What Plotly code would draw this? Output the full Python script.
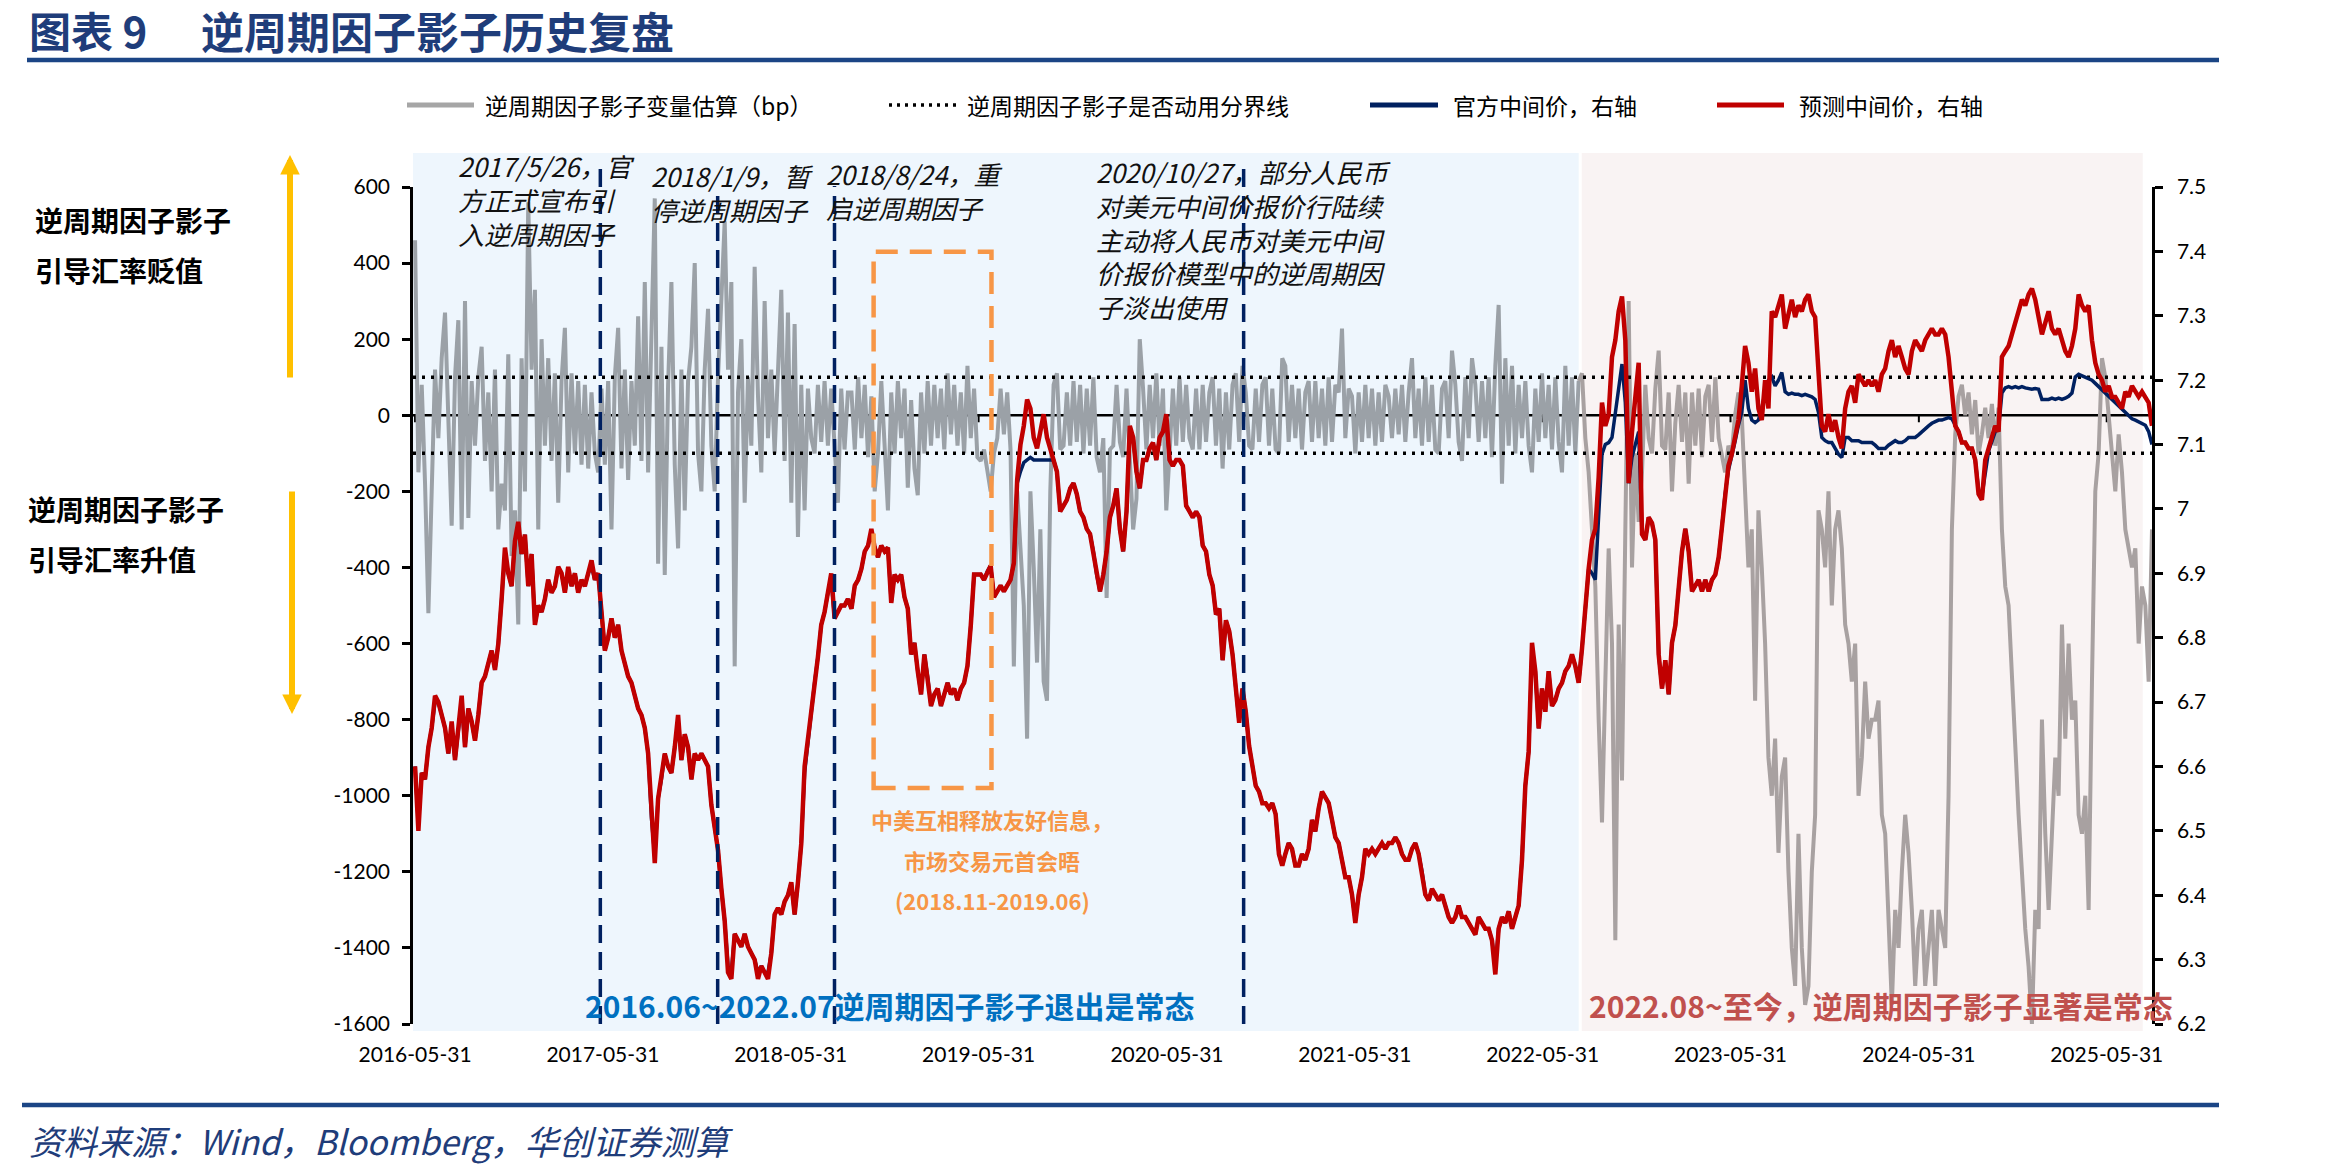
import pandas as pd
import plotly.graph_objects as go

# ---------------- data ----------------
# four consecutive time segments, values sampled roughly weekly
seg_a_span = ("2016-05-31", "2018-09-19")
seg_b_span = ("2018-09-26", "2021-01-10")
seg_c_span = ("2021-01-16", "2023-05-08")
seg_d_span = ("2023-05-14", "2025-08-27")

# 逆周期因子影子变量估算 (bp), left axis
shadow_a = [460, -150, 80, -180, -520, -220, 120, -60, 150, 270,
            -40, -290, 100, 250, -300, 300, -270, 90, -80, 100,
            180, -120, 60, -200, 120, -300, -180, -250, 160, -370,
            -250, -550, 150, -200, 560, 120, 330, -300, 200, -80,
            150, -120, 110, -230, 90, 230, -150, 110, -100, 90,
            -130, 80, -140, 60, -100, -150, 70, -130, 90, -300,
            100, 230, -140, 120, -170, 90, -80, 260, -120, 350,
            -150, 200, 570, -390, 180, -420, 80, 350, -130, -350,
            120, -250, 90, 180, 400, -100, -200, 120, 280, -80,
            -200, 100, 300, 510, 120, 350, -660, 60, 200, -230,
            100, -80, 390, 50, -150, 300, -60, 120, -100, 150,
            330, -120, 270, -230, 240, -320, 80, -250, 70, -60,
            -100, 80, -70, 90, -80, 70, -100, -230, 70, -90,
            60]
shadow_b = [60, -90, 100, -60, 80, -110, 50, -200, -100, 90,
            -70, -250, 60, -100, 90, -60, 70, -190, 40, -140,
            -210, 60, -100, 90, -80, 80, -60, 70, -90, 110,
            -50, 80, -80, 60, -100, 130, -60, 70, -110, -120,
            -90, -150, -200, -100, -60, 70, -50, 60, -90, -660,
            -200, -350, -500, -850, -200, -400, -650, -300, -700, -750,
            -200, 80, 110, -90, -80, 60, -80, 90, -70, 80,
            -100, 70, -80, 100, -110, -150, -60, -480, -90, -80,
            80, -70, -110, 70, -100, -300, -220, 200, 70, -90,
            80, -60, 110, -80, 70, -250, -100, 70, -80, 100,
            -70, 80, -60, -90, 70, -90, 80, -70, 60, 100,
            -80, 70, -140, 60, -90, 80, 110, -70, 130, 60,
            -80, -90, 70, -70, 80, 100, -80, 70, -90, -100,
            150]
shadow_c = [130, -70, 80, -60, 70, -90, 60, 90, -70, 90,
            -60, 70, -80, 100, -70, 80, 60, 228, -60, 70,
            50, -100, 60, -70, 80, -60, 70, -80, 60, -70,
            80, 50, -60, 70, -50, 80, -70, 60, 150, -60,
            70, -80, 100, -70, 80, -90, -100, 70, 90, -60,
            170, 80, -70, -120, 100, -60, 150, 80, -70, 90,
            -60, 100, -110, 130, 290, -180, 150, -80, 130, -100,
            80, -60, 90, -80, -150, 70, -70, 110, -60, 80,
            -90, 100, -70, -150, 130, -80, 100, -100, 90, 110,
            -60, -150, -300, -450, -800, -1070, -700, -350, -600, -1380,
            -550, -960, -300, 300, -400, -100, -280, -150, 80, -60,
            -100, 70, 170, -80, -90, 60, -200, -20, 80, -70,
            60, -180, 60, -80, 70, -110, 50, 80, -70, 100,
            -60]
shadow_d = [-100, -150, -80, -100, 0, 60, 0, -200, -400, -300,
            -750, -250, -400, -600, -900, -1000, -850, -1150, -950, -900,
            -1200, -1400, -1500, -1100, -1400, -1550, -1500, -1200, -1050, -250,
            -300, -400, -200, -500, -300, -250, -350, -550, -600, -700,
            -600, -1000, -900, -700, -850, -800, -800, -750, -1050, -1100,
            -1300, -1550, -1300, -1400, -1200, -1050, -1150, -1300, -1500, -1350,
            -1300, -1500, -1400, -1300, -1500, -1300, -1350, -1400, -1000, -300,
            -50, 50, 80, 0, 60, -50, 40, -100, -50, 20,
            -60, 30, -80, 20, -300, -450, -500, -700, -900, -1050,
            -1200, -1350, -1450, -1600, -1300, -1350, -800, -1100, -1300, -1100,
            -900, -1000, -550, -850, -600, -800, -750, -1050, -1100, -1000,
            -1300, -700, -200, -100, 150, 100, 0, -100, -200, -50,
            -150, -300, -350, -400, -350, -600, -450, -500, -700, -300]

# 预测中间价 (right axis)
predicted_a = [6.60, 6.50, 6.59, 6.58, 6.63, 6.66, 6.71, 6.70, 6.68, 6.66,
               6.62, 6.67, 6.61, 6.66, 6.71, 6.63, 6.69, 6.67, 6.64, 6.68,
               6.73, 6.74, 6.76, 6.78, 6.75, 6.79, 6.86, 6.94, 6.90, 6.88,
               6.95, 6.98, 6.93, 6.96, 6.88, 6.93, 6.82, 6.85, 6.84, 6.86,
               6.89, 6.87, 6.88, 6.91, 6.90, 6.87, 6.91, 6.88, 6.90, 6.87,
               6.89, 6.88, 6.90, 6.92, 6.89, 6.90, 6.84, 6.78, 6.80, 6.83,
               6.80, 6.82, 6.78, 6.76, 6.74, 6.73, 6.71, 6.69, 6.68, 6.66,
               6.62, 6.52, 6.45, 6.55, 6.58, 6.62, 6.60, 6.59, 6.63, 6.68,
               6.61, 6.65, 6.63, 6.58, 6.62, 6.61, 6.62, 6.61, 6.60, 6.54,
               6.50, 6.47, 6.41, 6.36, 6.28, 6.27, 6.34, 6.33, 6.32, 6.34,
               6.32, 6.31, 6.30, 6.27, 6.29, 6.28, 6.27, 6.31, 6.37, 6.38,
               6.37, 6.39, 6.40, 6.42, 6.37, 6.42, 6.48, 6.60, 6.64, 6.69,
               6.73, 6.77, 6.82, 6.84, 6.87, 6.90, 6.83, 6.84, 6.85, 6.85,
               6.86]
predicted_b = [6.845, 6.881, 6.890, 6.907, 6.934, 6.943, 6.969, 6.940, 6.925, 6.943,
               6.934, 6.940, 6.854, 6.898, 6.890, 6.898, 6.863, 6.845, 6.774, 6.792,
               6.748, 6.712, 6.774, 6.739, 6.694, 6.712, 6.721, 6.694, 6.712, 6.730,
               6.712, 6.721, 6.703, 6.721, 6.730, 6.756, 6.819, 6.898, 6.898, 6.898,
               6.890, 6.903, 6.912, 6.863, 6.872, 6.881, 6.872, 6.881, 6.890, 6.916,
               7.045, 7.100, 7.129, 7.170, 7.156, 7.111, 7.094, 7.120, 7.147, 7.111,
               7.094, 7.076, 7.058, 6.996, 7.005, 7.014, 7.032, 7.040, 7.023, 6.996,
               6.987, 6.969, 6.961, 6.934, 6.898, 6.872, 6.898, 6.934, 6.987, 7.005,
               7.032, 6.969, 6.934, 6.996, 7.129, 7.111, 7.058, 7.032, 7.076, 7.076,
               7.094, 7.103, 7.076, 7.111, 7.120, 7.147, 7.076, 7.067, 7.076, 7.076,
               7.067, 7.005, 6.996, 6.987, 6.996, 6.987, 6.943, 6.934, 6.898, 6.881,
               6.836, 6.845, 6.765, 6.827, 6.810, 6.774, 6.721, 6.668, 6.721, 6.685,
               6.632, 6.597, 6.570, 6.561, 6.543, 6.543, 6.535, 6.543, 6.526, 6.464,
               6.446]
predicted_c = [6.464, 6.481, 6.472, 6.446, 6.446, 6.464, 6.455, 6.472, 6.517, 6.499,
               6.535, 6.561, 6.552, 6.543, 6.517, 6.490, 6.481, 6.455, 6.428, 6.428,
               6.401, 6.357, 6.401, 6.428, 6.472, 6.464, 6.472, 6.464, 6.472, 6.481,
               6.472, 6.481, 6.481, 6.490, 6.481, 6.464, 6.455, 6.455, 6.472, 6.481,
               6.464, 6.437, 6.401, 6.392, 6.410, 6.401, 6.392, 6.401, 6.384, 6.366,
               6.357, 6.366, 6.384, 6.366, 6.366, 6.357, 6.348, 6.339, 6.366, 6.357,
               6.348, 6.348, 6.330, 6.277, 6.348, 6.366, 6.357, 6.375, 6.348, 6.366,
               6.384, 6.455, 6.570, 6.623, 6.792, 6.748, 6.659, 6.721, 6.685, 6.748,
               6.694, 6.703, 6.721, 6.730, 6.748, 6.756, 6.774, 6.756, 6.730, 6.783,
               6.854, 6.907, 6.952, 6.969, 7.049, 7.165, 7.129, 7.147, 7.236, 7.262,
               7.307, 7.330, 7.262, 7.040, 7.120, 7.174, 7.227, 6.961, 6.952, 6.987,
               6.978, 6.952, 6.774, 6.721, 6.765, 6.712, 6.792, 6.819, 6.881, 6.934,
               6.969, 6.934, 6.872, 6.881, 6.890, 6.872, 6.890, 6.872, 6.890, 6.898,
               6.925]
predicted_d = [6.969, 7.023, 7.067, 7.085, 7.111, 7.138, 7.191, 7.253, 7.227, 7.182,
               7.218, 7.156, 7.138, 7.200, 7.156, 7.307, 7.298, 7.316, 7.333, 7.280,
               7.307, 7.325, 7.298, 7.316, 7.307, 7.325, 7.333, 7.307, 7.298, 7.218,
               7.129, 7.120, 7.147, 7.120, 7.138, 7.111, 7.094, 7.156, 7.182, 7.191,
               7.165, 7.209, 7.200, 7.191, 7.200, 7.191, 7.200, 7.182, 7.209, 7.218,
               7.245, 7.262, 7.236, 7.253, 7.236, 7.218, 7.209, 7.245, 7.262, 7.253,
               7.245, 7.262, 7.271, 7.280, 7.271, 7.271, 7.280, 7.271, 7.236, 7.182,
               7.129, 7.120, 7.103, 7.103, 7.094, 7.094, 7.076, 7.023, 7.014, 7.076,
               7.094, 7.111, 7.129, 7.120, 7.236, 7.245, 7.253, 7.271, 7.289, 7.307,
               7.325, 7.316, 7.333, 7.342, 7.325, 7.298, 7.271, 7.289, 7.307, 7.280,
               7.271, 7.280, 7.262, 7.245, 7.236, 7.253, 7.280, 7.333, 7.316, 7.307,
               7.316, 7.262, 7.227, 7.209, 7.200, 7.182, 7.191, 7.174, 7.174, 7.165,
               7.156, 7.182, 7.174, 7.191, 7.182, 7.174, 7.182, 7.174, 7.165, 7.129]

# 官方中间价 (right axis)
official_a = [6.60, 6.51, 6.59, 6.58, 6.63, 6.66, 6.70, 6.70, 6.68, 6.66,
              6.62, 6.66, 6.61, 6.66, 6.70, 6.63, 6.69, 6.67, 6.64, 6.68,
              6.73, 6.74, 6.76, 6.78, 6.75, 6.79, 6.86, 6.93, 6.90, 6.88,
              6.95, 6.97, 6.93, 6.96, 6.88, 6.93, 6.82, 6.85, 6.84, 6.86,
              6.89, 6.87, 6.88, 6.91, 6.90, 6.87, 6.90, 6.88, 6.90, 6.87,
              6.89, 6.88, 6.90, 6.91, 6.89, 6.90, 6.84, 6.78, 6.80, 6.83,
              6.80, 6.82, 6.78, 6.76, 6.74, 6.73, 6.71, 6.69, 6.68, 6.66,
              6.62, 6.52, 6.46, 6.55, 6.58, 6.62, 6.60, 6.59, 6.63, 6.67,
              6.61, 6.65, 6.63, 6.58, 6.62, 6.61, 6.62, 6.61, 6.60, 6.54,
              6.50, 6.47, 6.41, 6.36, 6.29, 6.28, 6.34, 6.33, 6.32, 6.34,
              6.32, 6.31, 6.30, 6.28, 6.29, 6.28, 6.28, 6.31, 6.37, 6.38,
              6.37, 6.39, 6.40, 6.42, 6.37, 6.42, 6.48, 6.59, 6.64, 6.69,
              6.73, 6.77, 6.82, 6.84, 6.87, 6.89, 6.83, 6.84, 6.85, 6.85,
              6.86]
official_b = [6.845, 6.881, 6.890, 6.907, 6.934, 6.943, 6.965, 6.940, 6.925, 6.943,
              6.934, 6.940, 6.854, 6.898, 6.890, 6.898, 6.863, 6.845, 6.774, 6.792,
              6.748, 6.712, 6.774, 6.739, 6.694, 6.712, 6.721, 6.694, 6.712, 6.730,
              6.712, 6.721, 6.703, 6.721, 6.730, 6.756, 6.819, 6.898, 6.898, 6.898,
              6.890, 6.903, 6.912, 6.863, 6.872, 6.881, 6.872, 6.881, 6.890, 6.916,
              7.040, 7.058, 7.072, 7.076, 7.080, 7.076, 7.076, 7.076, 7.076, 7.076,
              7.076, 7.076, 7.058, 6.996, 7.005, 7.014, 7.032, 7.040, 7.023, 6.996,
              6.987, 6.969, 6.961, 6.934, 6.898, 6.872, 6.898, 6.934, 6.987, 7.005,
              7.032, 6.969, 6.934, 6.996, 7.120, 7.111, 7.058, 7.032, 7.076, 7.076,
              7.094, 7.103, 7.076, 7.111, 7.120, 7.140, 7.076, 7.067, 7.076, 7.076,
              7.067, 7.005, 6.996, 6.987, 6.996, 6.987, 6.943, 6.934, 6.898, 6.881,
              6.836, 6.845, 6.765, 6.827, 6.810, 6.774, 6.721, 6.668, 6.721, 6.685,
              6.632, 6.597, 6.570, 6.561, 6.543, 6.543, 6.535, 6.543, 6.526, 6.464,
              6.446]
official_c = [6.464, 6.481, 6.472, 6.446, 6.446, 6.464, 6.455, 6.472, 6.517, 6.499,
              6.535, 6.561, 6.552, 6.543, 6.517, 6.490, 6.481, 6.455, 6.428, 6.428,
              6.401, 6.360, 6.401, 6.428, 6.472, 6.464, 6.472, 6.464, 6.472, 6.481,
              6.472, 6.481, 6.481, 6.490, 6.481, 6.464, 6.455, 6.455, 6.472, 6.481,
              6.464, 6.437, 6.401, 6.392, 6.410, 6.401, 6.392, 6.401, 6.384, 6.366,
              6.357, 6.366, 6.384, 6.366, 6.366, 6.357, 6.348, 6.339, 6.366, 6.357,
              6.348, 6.348, 6.330, 6.290, 6.348, 6.366, 6.357, 6.375, 6.348, 6.366,
              6.384, 6.455, 6.570, 6.623, 6.780, 6.748, 6.659, 6.721, 6.685, 6.748,
              6.694, 6.703, 6.721, 6.730, 6.748, 6.756, 6.774, 6.756, 6.730, 6.783,
              6.854, 6.907, 6.900, 6.890, 6.990, 7.085, 7.100, 7.103, 7.111, 7.150,
              7.180, 7.225, 7.165, 7.040, 7.080, 7.100, 7.120, 6.961, 6.952, 6.987,
              6.978, 6.952, 6.774, 6.721, 6.765, 6.712, 6.792, 6.819, 6.881, 6.934,
              6.969, 6.934, 6.872, 6.881, 6.890, 6.872, 6.890, 6.872, 6.890, 6.898,
              6.925]
official_d = [6.969, 7.023, 7.060, 7.080, 7.105, 7.130, 7.150, 7.200, 7.156, 7.138,
              7.134, 7.138, 7.156, 7.182, 7.200, 7.205, 7.191, 7.200, 7.212, 7.182,
              7.178, 7.180, 7.178, 7.178, 7.176, 7.178, 7.176, 7.174, 7.170, 7.150,
              7.111, 7.106, 7.103, 7.103, 7.094, 7.085, 7.080, 7.111, 7.111, 7.106,
              7.106, 7.106, 7.103, 7.103, 7.103, 7.103, 7.099, 7.094, 7.094, 7.094,
              7.099, 7.103, 7.106, 7.103, 7.103, 7.106, 7.111, 7.111, 7.111, 7.115,
              7.120, 7.124, 7.129, 7.133, 7.135, 7.138, 7.138, 7.140, 7.142, 7.140,
              7.129, 7.120, 7.103, 7.103, 7.094, 7.094, 7.076, 7.030, 7.020, 7.060,
              7.090, 7.105, 7.120, 7.125, 7.180, 7.188, 7.190, 7.188, 7.190, 7.188,
              7.190, 7.188, 7.187, 7.186, 7.187, 7.186, 7.170, 7.170, 7.170, 7.172,
              7.170, 7.172, 7.170, 7.172, 7.175, 7.180, 7.205, 7.209, 7.207, 7.205,
              7.203, 7.200, 7.195, 7.190, 7.185, 7.180, 7.176, 7.170, 7.165, 7.160,
              7.156, 7.150, 7.145, 7.140, 7.138, 7.135, 7.133, 7.130, 7.120, 7.100]

threshold_bp = [100, -100]
event_dates = ["2017-05-26", "2018-01-09", "2018-08-24", "2020-10-27"]
trade_truce = ["2018-11-08", "2019-06-25"]
trade_truce_bp = [-980, 430]
period_split = ["2022-08-09", "2022-08-15"]

x_tick_dates = ["2016-05-31", "2017-05-31", "2018-05-31", "2019-05-31", "2020-05-31",
                "2021-05-31", "2022-05-31", "2023-05-31", "2024-05-31", "2025-05-31"]
x_tick_labels = list(x_tick_dates)
left_ticks = [-1600, -1400, -1200, -1000, -800, -600, -400, -200, 0, 200, 400, 600]
left_tick_labels = ["-1600", "-1400", "-1200", "-1000", "-800", "-600", "-400", "-200",
                    "0", "200", "400", "600"]
right_ticks = [6.2, 6.3, 6.4, 6.5, 6.6, 6.7, 6.8, 6.9, 7.0, 7.1, 7.2, 7.3, 7.4, 7.5]
right_tick_labels = ["6.2", "6.3", "6.4", "6.5", "6.6", "6.7", "6.8", "6.9", "7",
                     "7.1", "7.2", "7.3", "7.4", "7.5"]

X_RANGE = ["2016-05-27", "2025-08-27"]

# ---------------- geometry helpers (pixel -> paper) ----------------
W, H = 2327, 1173
PL, PR, PT, PB = 413, 2152, 187, 1024


def pxx(v):
    return (v - PL) / (PR - PL)


def pxy(v):
    return (PB - v) / (PB - PT)


def seg_x(span, n):
    return pd.date_range(span[0], span[1], periods=n)


def series(parts):
    spans = [seg_a_span, seg_b_span, seg_c_span, seg_d_span]
    xs, ys = [], []
    for sp, vals in zip(spans, parts):
        xs.extend(list(seg_x(sp, len(vals))))
        ys.extend(vals)
    return pd.Series(ys, index=pd.DatetimeIndex(xs))


shadow = series([shadow_a, shadow_b, shadow_c, shadow_d])
predicted = series([predicted_a, predicted_b, predicted_c, predicted_d])
official = series([official_a, official_b, official_c, official_d])

split_t = pd.Timestamp("2022-08-12")
shadow_early = shadow[shadow.index <= split_t]
shadow_late = shadow[shadow.index >= shadow_early.index[-1]]

CJK = "Noto Sans CJK SC"
NUM = "Lato"
NAVY = "#002060"
RED = "#C00000"
GRAY1 = "#9BA1A7"
GRAY2 = "#A8A1A1"

fig = go.Figure()
fig.add_trace(go.Scatter(x=shadow_early.index, y=shadow_early.values, mode="lines",
                         line=dict(color=GRAY1, width=4), name="逆周期因子影子变量估算（bp）",
                         showlegend=False))
fig.add_trace(go.Scatter(x=shadow_late.index, y=shadow_late.values, mode="lines",
                         line=dict(color=GRAY2, width=4), showlegend=False))
for v in threshold_bp:
    fig.add_trace(go.Scatter(x=X_RANGE, y=[v, v], mode="lines",
                             line=dict(color="black", width=3.5, dash="3px,6px"),
                             name="逆周期因子影子是否动用分界线", showlegend=False))
fig.add_trace(go.Scatter(x=official.index, y=official.values, mode="lines", yaxis="y2",
                         line=dict(color=NAVY, width=3.5), name="官方中间价，右轴",
                         showlegend=False))
fig.add_trace(go.Scatter(x=predicted.index, y=predicted.values, mode="lines", yaxis="y2",
                         line=dict(color=RED, width=4.5), name="预测中间价，右轴",
                         showlegend=False))

shapes = []
# background periods
shapes.append(dict(type="rect", xref="x", yref="paper", x0=X_RANGE[0], x1=period_split[0],
                   y0=pxy(1031), y1=pxy(153), fillcolor="#EEF6FD", line=dict(width=0),
                   layer="below"))
shapes.append(dict(type="rect", xref="x", yref="paper", x0=period_split[1], x1="2025-08-09",
                   y0=pxy(1031), y1=pxy(153), fillcolor="#F9F3F3", line=dict(width=0),
                   layer="below"))
# zero line with its tick marks
shapes.append(dict(type="line", xref="paper", yref="y", x0=0, x1=1, y0=0, y1=0,
                   line=dict(color="black", width=2.5), layer="below"))
for d in x_tick_dates:
    shapes.append(dict(type="line", xref="x", yref="y", x0=d, x1=d, ysizemode="pixel",
                       yanchor=0, y0=0, y1=-7, line=dict(color="black", width=2),
                       layer="below"))
# event lines
event_tops = [168, 190, 186, 168]
for d, top in zip(event_dates, event_tops):
    shapes.append(dict(type="line", xref="x", yref="paper", x0=d, x1=d, y0=0, y1=pxy(top),
                       line=dict(color=NAVY, width=3.5, dash="18px,9px"), layer="above"))
# trade-truce box
shapes.append(dict(type="rect", xref="x", yref="y", x0=trade_truce[0], x1=trade_truce[1],
                   y0=trade_truce_bp[0], y1=trade_truce_bp[1],
                   line=dict(color="#F79646", width=4.5, dash="22px,12px"), layer="above"))
# header / footer rules
shapes.append(dict(type="line", xref="paper", yref="paper", x0=pxx(27), x1=pxx(2219),
                   y0=pxy(60), y1=pxy(60), line=dict(color="#1B4585", width=4.5)))
shapes.append(dict(type="line", xref="paper", yref="paper", x0=pxx(22), x1=pxx(2219),
                   y0=pxy(1105), y1=pxy(1105), line=dict(color="#1B4585", width=4.5)))
# manual legend symbols
leg_y = pxy(105)
shapes.append(dict(type="line", xref="paper", yref="paper", x0=pxx(407), x1=pxx(474),
                   y0=leg_y, y1=leg_y, line=dict(color="#A6A6A6", width=5)))
shapes.append(dict(type="line", xref="paper", yref="paper", x0=pxx(889), x1=pxx(956),
                   y0=leg_y, y1=leg_y, line=dict(color="black", width=3.5, dash="3px,5px")))
shapes.append(dict(type="line", xref="paper", yref="paper", x0=pxx(1370), x1=pxx(1438),
                   y0=leg_y, y1=leg_y, line=dict(color=NAVY, width=5)))
shapes.append(dict(type="line", xref="paper", yref="paper", x0=pxx(1717), x1=pxx(1784),
                   y0=leg_y, y1=leg_y, line=dict(color=RED, width=5)))

ann = []


def text(t, x, y, size, color="black", xanchor="left", weight="normal", style="normal",
         family=CJK, align="left"):
    ann.append(dict(text=t, x=pxx(x), y=pxy(y), xref="paper", yref="paper",
                    xanchor=xanchor, yanchor="middle", showarrow=False, align=align,
                    font=dict(family=family, size=size, color=color, weight=weight,
                              style=style)))


# title & source
text("图表 9", 27, 30, 42, "#1F3D7A", weight="bold")
text("逆周期因子影子历史复盘", 199, 30, 43, "#1F3D7A", weight="bold")
text("资料来源：Wind，Bloomberg，华创证券测算", 27, 1140, 34, "#1F3D7A", style="italic")
# legend texts
text("逆周期因子影子变量估算（bp）", 483, 105, 23)
text("逆周期因子影子是否动用分界线", 965, 105, 23)
text("官方中间价，右轴", 1451, 105, 23)
text("预测中间价，右轴", 1797, 105, 23)
# left side explanations
text("逆周期因子影子", 33, 220, 28, weight="bold")
text("引导汇率贬值", 33, 270, 28, weight="bold")
text("逆周期因子影子", 26, 509, 28, weight="bold")
text("引导汇率升值", 26, 559, 28, weight="bold")
# event notes
text("2017/5/26，官<br>方正式宣布引<br>入逆周期因子", 456, 200, 26, "#111111", style="italic")
text("2018/1/9，暂<br>停逆周期因子", 649, 193, 26, "#111111", style="italic")
text("2018/8/24，重<br>启逆周期因子", 824, 190, 26, "#111111", style="italic")
text("2020/10/27，部分人民币<br>对美元中间价报价行陆续<br>主动将人民币对美元中间<br>价报价模型中的逆周期因<br>子淡出使用",
     1094, 239, 26, "#111111", style="italic")
# trade truce notes
text("中美互相释放友好信息，", 992, 819, 22, "#F79646", xanchor="center", weight="bold")
text("市场交易元首会晤", 992, 860, 22, "#F79646", xanchor="center", weight="bold")
text("(2018.11-2019.06)", 992, 900, 22, "#F79646", xanchor="center", weight="bold")
# regime labels
text("2016.06~2022.07逆周期因子影子退出是常态", 583, 1005, 30, "#0070C0", weight="bold")
text("2022.08~至今，逆周期因子影子显著是常态", 1587, 1005, 30, "#C0504D", weight="bold")

# arrows
ann.append(dict(x=pxx(290), y=pxy(155), xref="paper", yref="paper", text="", showarrow=True,
                ax=0, ay=224, arrowhead=2, arrowsize=0.65, arrowwidth=6, arrowcolor="#FFC000"))
ann.append(dict(x=pxx(292), y=pxy(714), xref="paper", yref="paper", text="", showarrow=True,
                ax=0, ay=-224, arrowhead=2, arrowsize=0.65, arrowwidth=6, arrowcolor="#FFC000"))

tickfont = dict(family=NUM, size=21, color="black")
fig.update_layout(
    width=W, height=H, autosize=False,
    margin=dict(l=PL, r=W - PR, t=PT, b=H - PB, pad=0),
    paper_bgcolor="white", plot_bgcolor="rgba(0,0,0,0)",
    showlegend=False,
    shapes=shapes, annotations=ann,
    xaxis=dict(type="date", range=X_RANGE, tickvals=x_tick_dates, ticktext=x_tick_labels,
               ticks="", showline=False, showgrid=False, zeroline=False, tickfont=tickfont,
               ticklabelstandoff=16),
    yaxis=dict(range=[-1600, 600], tickvals=left_ticks, ticktext=left_tick_labels,
               showline=True, linecolor="black", linewidth=2.5, ticks="outside", ticklen=8,
               tickwidth=2.5, tickcolor="black", showgrid=False, zeroline=False,
               tickfont=tickfont, ticklabelstandoff=8),
    yaxis2=dict(range=[6.2, 7.5], overlaying="y", side="right", tickvals=right_ticks,
                ticktext=right_tick_labels, showline=True, linecolor="black", linewidth=2.5,
                ticks="outside", ticklen=8, tickwidth=2.5, tickcolor="black", showgrid=False,
                zeroline=False, tickfont=tickfont, ticklabelstandoff=10),
)

fig.write_html("out.html", config={"displayModeBar": False})
